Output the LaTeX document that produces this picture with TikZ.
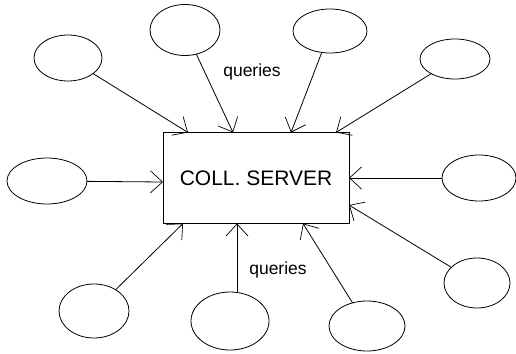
\documentclass[tikz,border=0pt]{standalone}
\usepackage{fontspec}
\setmainfont{Liberation Sans}
\usetikzlibrary{shapes.geometric,arrows.meta}
\begin{document}
\begin{tikzpicture}[x=1pt,y=-1pt,
  peer/.style={draw,ellipse,line width=0.8pt,inner sep=0pt,outer sep=0pt},
  arr/.style={line width=0.8pt,-{Straight Barb[length=12pt,width=22pt,line width=0.7pt]}},
  lbl/.style={font=\fontsize{17.5}{20}\selectfont,inner sep=0pt}]
\useasboundingbox (0,0) rectangle (516,353);
\node[draw,line width=1pt,minimum width=186pt,minimum height=91pt,inner sep=0pt,
  font=\fontsize{21}{24}\selectfont] (srv) at (256,178) {COLL. SERVER};
% ellipses
\node[peer,minimum width=68pt,minimum height=46pt] (e1) at (68,58) {};
\node[peer,minimum width=70pt,minimum height=51pt] (e2) at (185,30) {};
\node[peer,minimum width=74pt,minimum height=44pt] (e3) at (330,31) {};
\node[peer,minimum width=70pt,minimum height=40pt] (e4) at (455,59) {};
\node[peer,minimum width=80pt,minimum height=46pt] (e5) at (47,181) {};
\node[peer,minimum width=74pt,minimum height=46pt] (e6) at (479,178) {};
\node[peer,minimum width=70pt,minimum height=54pt] (e7) at (94,311) {};
\node[peer,minimum width=78pt,minimum height=58pt] (e8) at (230,321) {};
\node[peer,minimum width=76pt,minimum height=50pt] (e9) at (367,326) {};
\node[peer,minimum width=66pt,minimum height=50pt] (e10) at (477,283) {};
% arrow ends on the server box
\coordinate (t1) at (188,132.5);
\coordinate (t2) at (233,132.5);
\coordinate (t3) at (291,132.5);
\coordinate (t4) at (336,132.5);
\coordinate (l1) at (163,182);
\coordinate (r1) at (349,178);
\coordinate (r2) at (349,205);
\coordinate (b1) at (183,223.5);
\coordinate (b2) at (237,223.5);
\coordinate (b3) at (303,223.5);
\draw[arr] (e1) -- (t1);
\draw[arr] (e2) -- (t2);
\draw[arr] (e3) -- (t3);
\draw[arr] (e4) -- (t4);
\draw[arr] (e5) -- (l1);
\draw[arr] (e6) -- (r1);
\draw[arr] (e10) -- (r2);
\draw[arr] (e7) -- (b1);
\draw[arr] (e8.north -| b2) -- (b2);
\draw[arr] (e9) -- (b3);
\node[lbl] (q1) at (252,72) {queries};
\node[lbl] (q2) at (278,270) {queries};
\end{tikzpicture}
\end{document}
